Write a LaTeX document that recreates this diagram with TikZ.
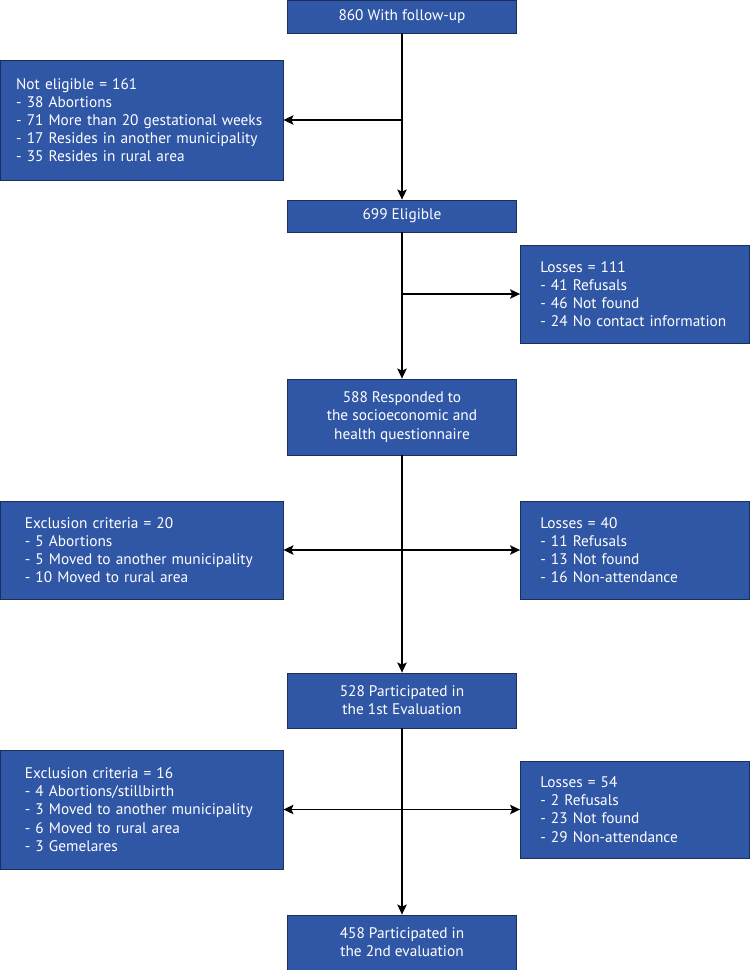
\documentclass[tikz,border=0pt]{standalone}
\usepackage{fontspec}
\setmainfont{PT Sans}
\usetikzlibrary{arrows.meta}
\definecolor{boxfill}{RGB}{48,86,166}
\definecolor{boxedge}{RGB}{28,46,92}
\tikzset{
  stage/.style={draw=boxedge, line width=0.6pt, fill=boxfill, text=white, inner sep=0pt,
    align=center, minimum width=171.75pt, font=\fontsize{11.5}{13.6}\selectfont},
  leftnote/.style={stage, align=left, minimum width=212.25pt, text width=#1},
  leftnote/.default=175pt,
  rightnote/.style={stage, align=left, text width=142pt},
  flow/.style={line width=1.35pt, -{Stealth[length=7.5pt,width=7pt,inset=1.5pt]}}
}
\begin{document}
\begin{tikzpicture}[x=0.75pt,y=-0.75pt]
\useasboundingbox (0,0) rectangle (750,970);
% main column
\node[stage, minimum height=24.75pt] (follow) at (402,16.5) {860 With follow-up};
\node[stage, minimum height=24pt] (elig) at (402,216) {699 Eligible};
\node[stage, minimum height=57pt] (resp) at (402,417) {588 Responded to\\the socioeconomic and\\health questionnaire};
\node[stage, minimum height=41.25pt] (first) at (402,700.5) {528 Participated in\\the 1st Evaluation};
\node[stage, minimum height=41.25pt] (second) at (402,942.5) {458 Participated in\\the 2nd evaluation};
% exclusions and losses
\node[leftnote=188pt, minimum height=90pt] (notelig) at (141.5,120) {Not eligible = 161\\- 38 Abortions\\- 71 More than 20 gestational weeks\\- 17 Resides in another municipality\\- 35 Resides in rural area};
\node[rightnote, minimum height=73.5pt] (loss1) at (635,294) {Losses = 111\\- 41 Refusals\\- 46 Not found\\- 24 No contact information};
\node[leftnote, minimum height=73.5pt] (excl1) at (141.5,550) {Exclusion criteria = 20\\- 5 Abortions\\- 5 Moved to another municipality\\- 10 Moved to rural area};
\node[rightnote, minimum height=73.5pt] (loss2) at (635,550) {Losses = 40\\- 11 Refusals\\- 13 Not found\\- 16 Non-attendance};
\node[leftnote, minimum height=89.25pt] (excl2) at (141.5,809.5) {Exclusion criteria = 16\\- 4 Abortions/stillbirth\\- 3 Moved to another municipality\\- 6 Moved to rural area\\- 3 Gemelares};
\node[rightnote, minimum height=72.75pt] (loss3) at (635,809.5) {Losses = 54\\- 2 Refusals\\- 23 Not found\\- 29 Non-attendance};
% connectors
\draw[flow] (follow) -- (elig);
\draw[flow] (follow.south |- notelig.east) -- (notelig.east);
\draw[flow] (elig) -- (resp);
\draw[flow] (elig.south |- loss1.west) -- (loss1.west);
\draw[flow] (resp) -- (first);
\draw[flow] (resp.south |- excl1.east) -- (excl1.east);
\draw[flow] (resp.south |- loss2.west) -- (loss2.west);
\draw[flow] (first) -- (second);
\draw[flow] (first.south |- excl2.east) -- (excl2.east);
\draw[flow] (first.south |- loss3.west) -- (loss3.west);
\end{tikzpicture}
\end{document}
